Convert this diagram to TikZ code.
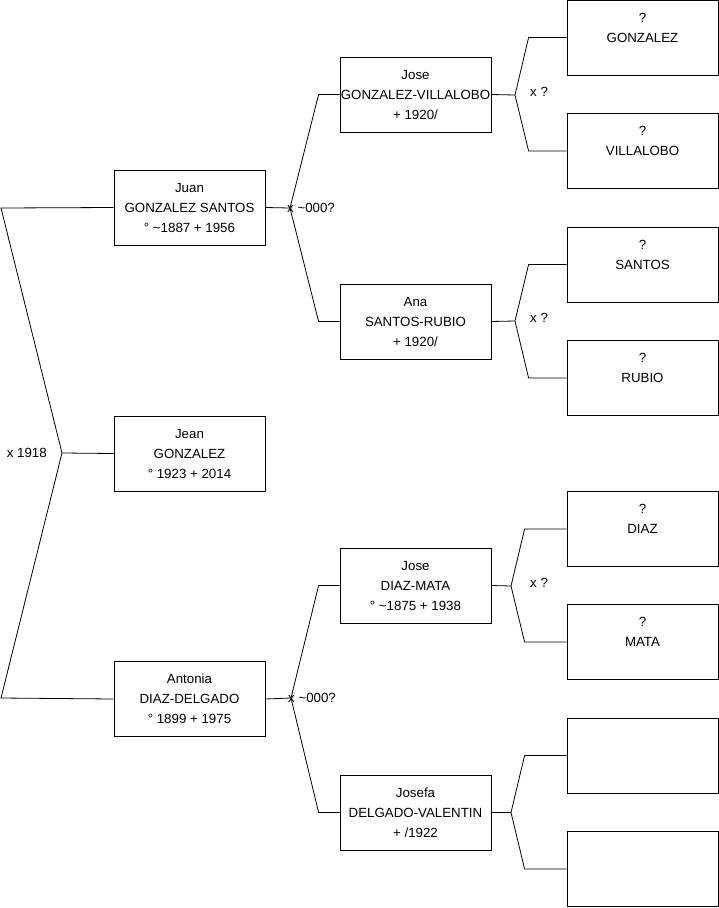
\documentclass[tikz,border=0pt]{standalone}
\usepackage{fontspec}
\setmainfont{Liberation Sans}
\newcommand{\tld}{\textasciitilde}
\tikzset{
person/.style={draw=black,line width=0.8pt,minimum width=151pt,minimum height=75pt,inner sep=0pt,
align=center,font=\fontsize{13.3}{20}\selectfont},
link/.style={draw=black,line width=0.8pt},
union/.style={font=\fontsize{13.3}{16}\selectfont,inner sep=0pt}
}
\begin{document}
\begin{tikzpicture}[x=1pt,y=-1pt]
\useasboundingbox (0,0) rectangle (719,908);
% generation 1
\node[person] (jean) at (189.5,453.5) {Jean\\GONZALEZ\\° 1923 + 2014};
% parents
\node[person] (juan) at (189.5,207.5) {Juan\\GONZALEZ SANTOS\\° \tld1887 + 1956};
\node[person] (antonia) at (189.5,699) {Antonia\\DIAZ-DELGADO\\° 1899 + 1975};
% grandparents
\node[person] (josegv) at (415.5,94.5) {Jose\\GONZALEZ-VILLALOBO\\+ 1920/};
\node[person] (ana) at (415.5,321.5) {Ana\\SANTOS-RUBIO\\+ 1920/};
\node[person] (josedm) at (415.5,585.5) {Jose\\DIAZ-MATA\\° \tld1875 + 1938};
\node[person] (josefa) at (415.5,812.5) {Josefa\\DELGADO-VALENTIN\\+ /1922};
% great-grandparents
\node[person] (gonzalez) at (642.5,37.5) {?\\GONZALEZ\\\mbox{}};
\node[person] (villalobo) at (642.5,151) {?\\VILLALOBO\\\mbox{}};
\node[person] (santos) at (642.5,264.5) {?\\SANTOS\\\mbox{}};
\node[person] (rubio) at (642.5,378) {?\\RUBIO\\\mbox{}};
\node[person] (diaz) at (642.5,529) {?\\DIAZ\\\mbox{}};
\node[person] (mata) at (642.5,642) {?\\MATA\\\mbox{}};
\node[person] (delgado) at (642.5,755.5) {};
\node[person] (valentin) at (642.5,869) {};

% junctions
\coordinate (jtop) at (1,208);
\coordinate (jbot) at (1,698);
\coordinate (jx) at (62,453);
\coordinate (jjuan) at (290,208);
\coordinate (jant) at (291,698);
\coordinate (jgv) at (515,95);
\coordinate (jana) at (515,321);
\coordinate (jdm) at (511,586);
\coordinate (jfa) at (511,812.5);

% connectors
\draw[link] (juan.west) -- (jtop) -- (jx) -- (jbot) -- (antonia.west);
\draw[link] (jx) -- (jean.west);
\node[union,anchor=east] (u0) at ([xshift=-15pt]jx) {x 1918};

\draw[link] (juan.east) -- (jjuan);
\draw[link] (josegv.west) -- ([xshift=-21pt]josegv.west) -- (jjuan) -- ([xshift=-21pt]ana.west) -- (ana.west);
\node[union,anchor=west] (u1) at ([xshift=-3pt]jjuan) {x \tld000?};

\draw[link] (antonia.east) -- (jant);
\draw[link] (josedm.west) -- ([xshift=-21pt]josedm.west) -- (jant) -- ([xshift=-21pt]josefa.west) -- (josefa.west);
\node[union,anchor=west] (u2) at ([xshift=-3pt]jant) {x \tld000?};

\draw[link] (josegv.east) -- (jgv);
\draw[link] (gonzalez.west) -- ([xshift=-38pt]gonzalez.west) -- (jgv) -- ([xshift=-38pt]villalobo.west) -- (villalobo.west);
\node[union,anchor=west] (u3) at ([xshift=15pt,yshift=3pt]jgv) {x ?};

\draw[link] (ana.east) -- (jana);
\draw[link] (santos.west) -- ([xshift=-38pt]santos.west) -- (jana) -- ([xshift=-38pt]rubio.west) -- (rubio.west);
\node[union,anchor=west] (u4) at ([xshift=15pt,yshift=3pt]jana) {x ?};

\draw[link] (josedm.east) -- (jdm);
\draw[link] (diaz.west) -- ([xshift=-42pt]diaz.west) -- (jdm) -- ([xshift=-42pt]mata.west) -- (mata.west);
\node[union,anchor=west] (u5) at ([xshift=19pt,yshift=3pt]jdm) {x ?};

\draw[link] (josefa.east) -- (jfa);
\draw[link] (delgado.west) -- ([xshift=-42pt]delgado.west) -- (jfa) -- ([xshift=-42pt]valentin.west) -- (valentin.west);
\end{tikzpicture}
\end{document}
